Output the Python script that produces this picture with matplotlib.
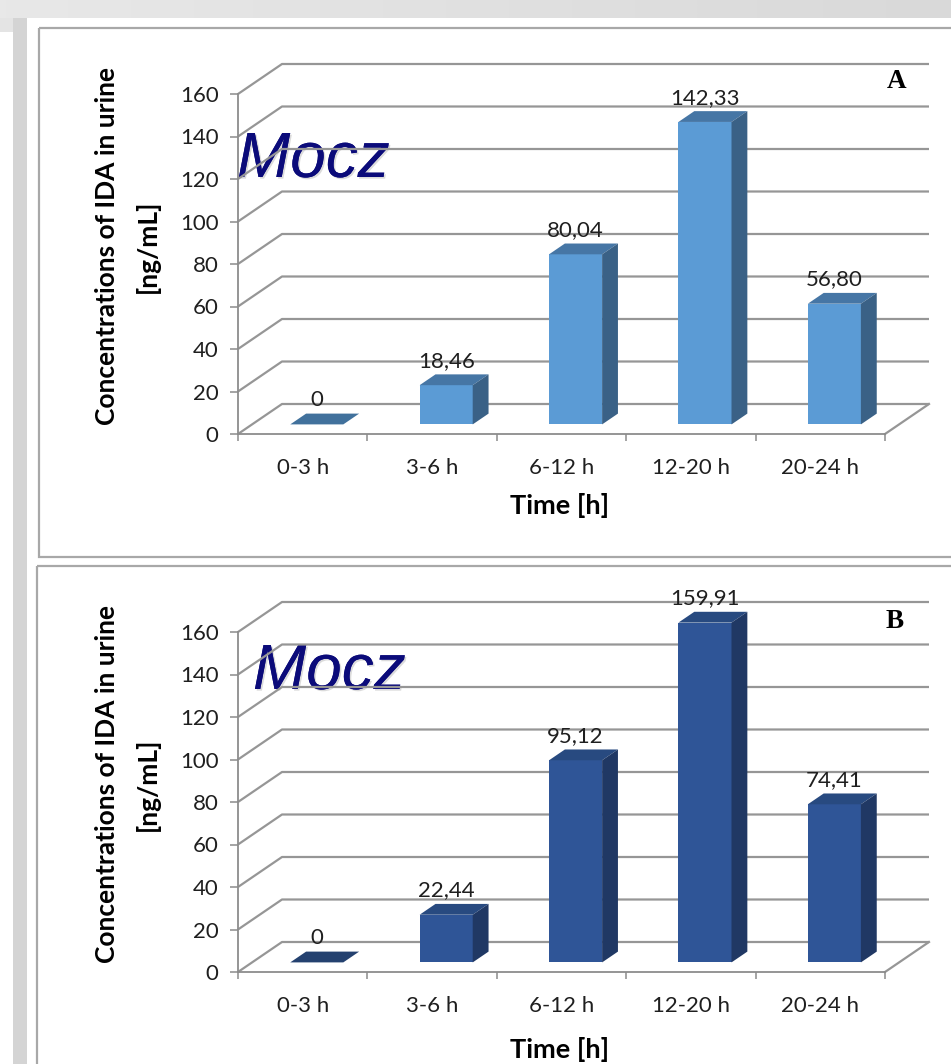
import matplotlib
matplotlib.use("Agg")
import matplotlib.pyplot as plt
import matplotlib.patheffects as pe
from matplotlib.colors import LinearSegmentedColormap
from matplotlib.patches import Polygon, Rectangle
import numpy as np

# ---- data -------------------------------------------------------------
categories = ["0-3 h", "3-6 h", "6-12 h", "12-20 h", "20-24 h"]
conc_a = [0, 18.46, 80.04, 142.33, 56.80]
conc_b = [0, 22.44, 95.12, 159.91, 74.41]
y_ticks = [0, 20, 40, 60, 80, 100, 120, 140, 160]
y_title = "Concentrations of IDA in urine\n[ng/mL]"
x_title = "Time [h]"
overlay_word = "Mocz"

# ---- canvas -------------------------------------------------------------
W, H = 951, 1064
fig = plt.figure(figsize=(W / 100, H / 100), dpi=100, facecolor="white")
PT = 72 / 100  # points per pixel

bg = fig.add_axes([0, 0, 1, 1])
bg.axis("off")
band = LinearSegmentedColormap.from_list("band", ["#e8e8e8", "#d9d9d9"])
bg.imshow(np.linspace(0, 1, 256)[None, :], extent=[0, W, 18, 0], cmap=band,
          aspect="auto", interpolation="bilinear")
bg.add_patch(Rectangle((0, 18), 13, 14, color="#e4e4e4", lw=0))
bg.add_patch(Rectangle((13, 18), 14, H - 18, color="#d4d4d4", lw=0))
bg.add_patch(Rectangle((39, 28), W + 20, 529, fill=False, ec="#a8a8a8", lw=1.6))
bg.add_patch(Rectangle((37, 566), W + 20, H, fill=False, ec="#a8a8a8", lw=1.6))
bg.set_xlim(0, W)
bg.set_ylim(H, 0)

FONT = "Lato"
GRID = "#969696"
AXC = "#8c8c8c"

# geometry of the pseudo-3D plot box (pixels)
X_LEFT, X_RIGHT = 238, 931
CAT_PX = 129.4
UNIT_PX = 2.125
DEPTH_PX = (44, 30)
BAR_W = 0.41
F0, F1 = 0.32, 0.68


def draw_panel(zero_px, values, front, top, side, flat, letter, letter_xy,
               word_xy, xtitle_y):
    span = 420
    ax = fig.add_axes([X_LEFT / W, (H - zero_px) / H,
                       (X_RIGHT - X_LEFT) / W, span / H])
    ax.set_xlim(-0.5, -0.5 + (X_RIGHT - X_LEFT) / CAT_PX)
    ax.set_ylim(0, span / UNIT_PX)
    ax.patch.set_alpha(0)
    dx = DEPTH_PX[0] / CAT_PX
    dy = DEPTH_PX[1] / UNIT_PX
    n = len(values)

    # side wall + back wall gridlines
    for v in y_ticks:
        ax.plot([-0.5, -0.5 + dx, n - 0.5 + dx], [v, v + dy, v + dy],
                color=GRID, lw=1.6, zorder=1, clip_on=False,
                solid_capstyle="butt")
    # floor right edge
    ax.plot([n - 0.5, n - 0.5 + dx], [0, dy], color=GRID, lw=1.6, zorder=1,
            clip_on=False)

    x = np.arange(n)
    vals = np.asarray(values, dtype=float)
    # front faces
    ax.bar(x + F0 * dx, vals, width=BAR_W, bottom=F0 * dy, color=front,
           zorder=3, lw=0)
    for xi, v in zip(x, vals):
        xl = xi - BAR_W / 2
        xr = xi + BAR_W / 2
        y0 = v + F0 * dy
        y1 = v + F1 * dy
        top_pts = [(xl + F0 * dx, y0), (xr + F0 * dx, y0),
                   (xr + F1 * dx, y1), (xl + F1 * dx, y1)]
        ax.add_patch(Polygon(top_pts, closed=True,
                             color=top if v > 0 else flat, lw=0, zorder=4))
        if v > 0:
            side_pts = [(xr + F0 * dx, F0 * dy), (xr + F1 * dx, F1 * dy),
                        (xr + F1 * dx, y1), (xr + F0 * dx, y0)]
            ax.add_patch(Polygon(side_pts, closed=True, color=side, lw=0,
                                 zorder=4))
        label = "0" if v == 0 else f"{v:.2f}".replace(".", ",")
        ax.annotate(label, (xi + F0 * dx, y1), xytext=(0, 13.5 * PT),
                    textcoords="offset points", ha="center", va="center",
                    fontsize=16, family=FONT, color="#1f1f1f", zorder=5)

    # axes lines and ticks
    for s in ("top", "right"):
        ax.spines[s].set_visible(False)
    ax.spines["left"].set_bounds(0, y_ticks[-1])
    ax.spines["bottom"].set_bounds(-0.5, n - 0.5)
    for s in ("left", "bottom"):
        ax.spines[s].set_color(AXC)
        ax.spines[s].set_linewidth(1.3)
    ax.set_yticks(y_ticks)
    ax.set_yticklabels([str(t) for t in y_ticks], family=FONT)
    ax.tick_params(axis="y", length=8 * PT, width=1.1, color=AXC,
                   pad=11.5 * PT, labelsize=16, labelcolor="#1f1f1f")
    ax.set_xticks(x)
    ax.set_xticklabels(categories, family=FONT)
    ax.set_xticks(np.arange(-0.5, n, 1), minor=True)
    ax.tick_params(axis="x", which="major", length=0, pad=24 * PT,
                   labelsize=16, labelcolor="#1f1f1f")
    ax.tick_params(axis="x", which="minor", length=7 * PT, width=1.1,
                   color=AXC)

    # titles and overlays (pixel placement on the background axes)
    yc = zero_px - 188
    line1, line2 = y_title.split("\n")
    bg.text(107, yc, line1, rotation=90, ha="center", va="center",
            fontsize=19, fontweight="bold", family=FONT, color="black")
    bg.text(147, yc, line2, rotation=90, ha="center", va="center",
            fontsize=19, fontweight="bold", family=FONT, color="black")
    bg.text(560, xtitle_y, x_title, ha="center", va="center", fontsize=19.5,
            fontweight="bold", family=FONT, color="black")
    bg.text(letter_xy[0], letter_xy[1], letter, ha="center", va="center",
            fontsize=19.5, fontweight="bold", family="Liberation Serif",
            color="black")
    bg.text(word_xy[0], word_xy[1], overlay_word, ha="left", va="baseline",
            fontsize=46, style="italic", family="Liberation Sans",
            color="#0b0b7a", zorder=10,
            path_effects=[pe.withSimplePatchShadow(offset=(1.2, -1.2),
                                                   shadow_rgbFace="#9a9a9a",
                                                   alpha=0.35),
                          pe.Normal()])
    return ax


draw_panel(434, conc_a, "#5B9BD5", "#4676A5", "#3A6186", "#41719C",
           "A", (897, 82), (237, 177), 506)
draw_panel(972, conc_b, "#2F5597", "#284A80", "#203864", "#24416F",
           "B", (895, 621), (253, 689), 1050)

fig.savefig("out.png", dpi=100, facecolor="white")
